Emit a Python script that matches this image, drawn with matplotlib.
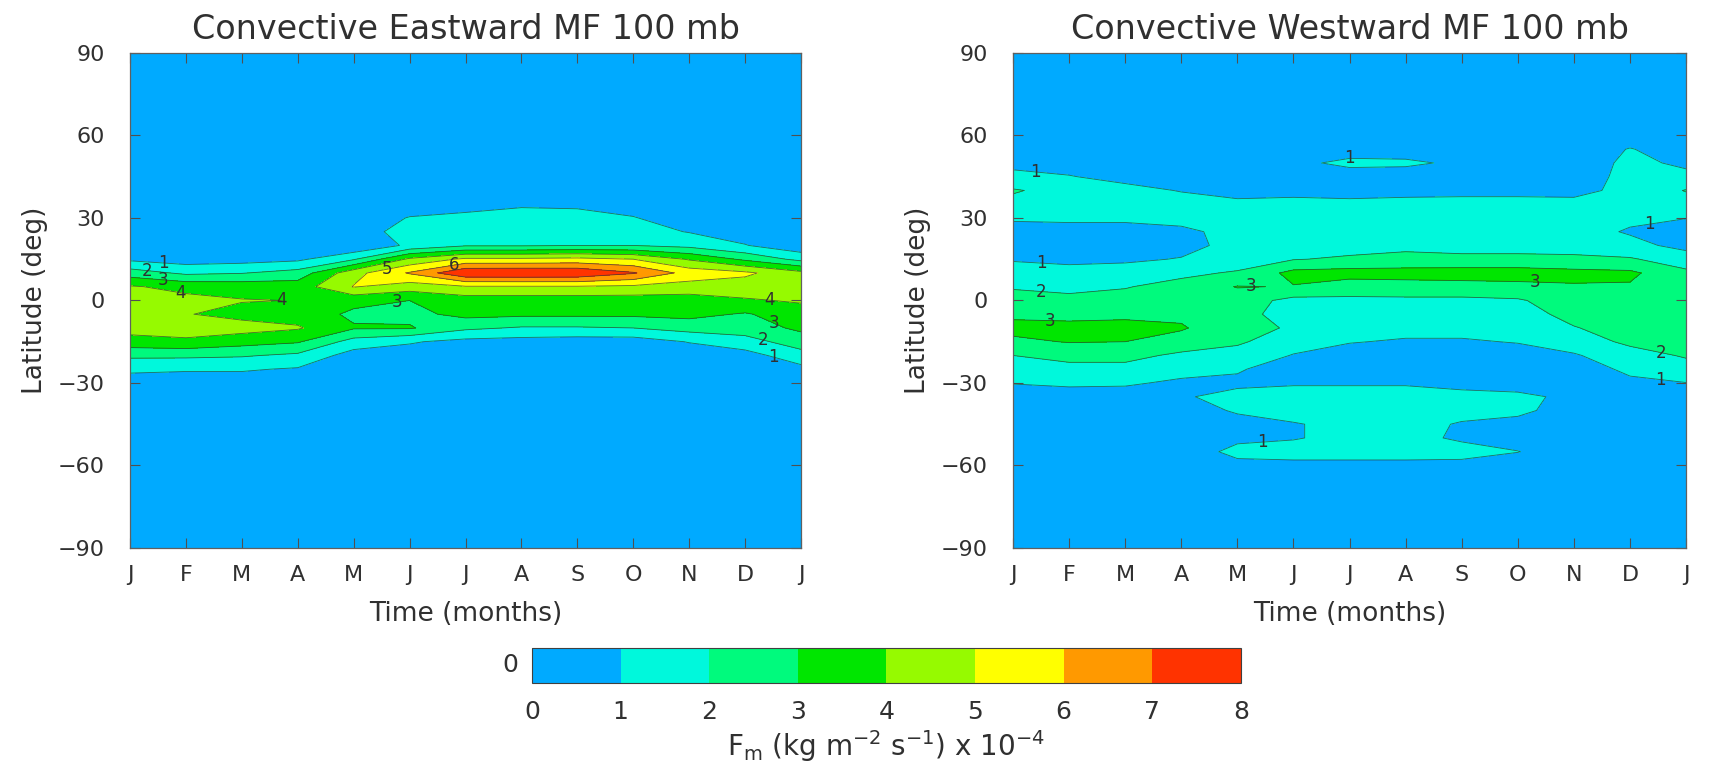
import numpy as np
import matplotlib
matplotlib.use("Agg")
import matplotlib.pyplot as plt
from matplotlib.colors import ListedColormap, BoundaryNorm

# ---- axes / categories ----
month_pos = list(range(13))
month_labels = ["J", "F", "M", "A", "M", "J", "J", "A", "S", "O", "N", "D", "J"]
lat_ticks = [-90, -60, -30, 0, 30, 60, 90]
levels = [0, 1, 2, 3, 4, 5, 6, 7, 8]

# latitude of each data row (north to south)
lat = [90, 75, 65, 60, 55, 50, 45, 40, 35, 30, 25, 20, 15, 10, 5, 0,
       -5, -10, -15, -20, -25, -30, -35, -40, -45, -50, -55, -60, -65, -75, -90]

# ---- eastward momentum flux, 1e-4 kg m-2 s-1 (rows: lat, cols: J..J) ----
east_mf = [
    [0.3] * 13,                                                              # 90
    [0.3] * 13,                                                              # 75
    [0.3] * 13,                                                              # 65
    [0.3] * 13,                                                              # 60
    [0.3] * 13,                                                              # 55
    [0.3] * 13,                                                              # 50
    [0.3] * 13,                                                              # 45
    [0.4, 0.4, 0.4, 0.4, 0.4, 0.4, 0.4, 0.5, 0.4, 0.4, 0.4, 0.4, 0.4],       # 40
    [0.4, 0.4, 0.4, 0.4, 0.4, 0.5, 0.7, 0.9, 0.85, 0.6, 0.4, 0.4, 0.4],      # 35
    [0.4, 0.4, 0.4, 0.4, 0.4, 1.05, 1.2, 1.3, 1.3, 1.05, 0.5, 0.4, 0.4],     # 30
    [0.4, 0.4, 0.4, 0.4, 0.4, 1.5, 1.5, 1.5, 1.6, 1.4, 0.95, 0.5, 0.3],      # 25
    [0.3, 0.3, 0.3, 0.4, 0.1, 1.2, 1.9, 1.9, 2.0, 2.0, 1.7, 1.05, 0.3],      # 20
    [0.8, 0.5, 0.6, 0.8, 1.9, 4.2, 5.2, 5.2, 5.3, 5.0, 3.9, 2.8, 1.7],       # 15
    [2.5, 1.8, 1.95, 2.4, 4.65, 6.1, 7.9, 7.95, 7.9, 7.1, 5.6, 5.2, 4.3],    # 10
    [4.1, 3.7, 3.6, 3.5, 5.05, 4.5, 4.9, 4.9, 4.9, 4.8, 4.6, 4.5, 4.6],      # 5
    [4.6, 4.3, 4.05, 3.98, 3.3, 3.0, 3.5, 3.5, 3.5, 3.5, 3.5, 3.9, 4.1],     # 0
    [4.6, 4.05, 3.7, 3.6, 2.8, 2.7, 3.3, 3.2, 3.2, 3.2, 3.3, 2.9, 3.6],      # -5
    [4.4, 4.5, 4.4, 4.1, 3.1, 3.1, 2.2, 1.9, 1.9, 2.0, 2.4, 2.5, 3.2],       # -10
    [3.6, 3.8, 3.4, 3.1, 1.6, 1.1, 0.7, 0.6, 0.5, 0.5, 1.05, 1.6, 2.5],      # -15
    [2.2, 2.2, 2.1, 1.8, 0.55, 0.5, 0.4, 0.4, 0.4, 0.4, 0.4, 0.6, 1.6],      # -20
    [1.2, 1.1, 1.1, 0.9, 0.4, 0.4, 0.3, 0.3, 0.3, 0.3, 0.3, 0.4, 0.7],       # -25
    [0.5, 0.5, 0.5, 0.4, 0.3, 0.3, 0.3, 0.3, 0.3, 0.3, 0.3, 0.3, 0.4],       # -30
    [0.3] * 13,                                                              # -35
    [0.3] * 13,                                                              # -40
    [0.3] * 13,                                                              # -45
    [0.3] * 13,                                                              # -50
    [0.3] * 13,                                                              # -55
    [0.3] * 13,                                                              # -60
    [0.3] * 13,                                                              # -65
    [0.3] * 13,                                                              # -75
    [0.3] * 13,                                                              # -90
]

# ---- westward momentum flux, 1e-4 kg m-2 s-1 (rows: lat, cols: J..J) ----
west_mf = [
    [0.3] * 13,                                                              # 90
    [0.3] * 13,                                                              # 75
    [0.3] * 13,                                                              # 65
    [0.3, 0.3, 0.3, 0.3, 0.3, 0.3, 0.3, 0.3, 0.3, 0.3, 0.3, 0.5, 0.4],       # 60
    [0.3, 0.3, 0.3, 0.3, 0.3, 0.3, 0.6, 0.6, 0.4, 0.3, 0.4, 1.05, 0.5],      # 55
    [0.8, 0.6, 0.4, 0.3, 0.3, 0.8, 1.2, 1.15, 0.85, 0.5, 0.5, 1.2, 0.85],    # 50
    [1.2, 1.05, 0.7, 0.5, 0.4, 0.6, 0.6, 0.6, 0.6, 0.6, 0.5, 1.3, 1.2],      # 45
    [2.1, 1.6, 1.3, 0.95, 0.7, 0.8, 0.7, 0.75, 0.75, 0.75, 0.7, 1.3, 2.05],  # 40
    [1.7, 1.6, 1.5, 1.4, 1.2, 1.2, 1.2, 1.25, 1.3, 1.3, 1.3, 1.3, 1.6],      # 35
    [1.1, 1.15, 1.2, 1.3, 1.3, 1.4, 1.5, 1.5, 1.5, 1.5, 1.5, 1.2, 1.02],     # 30
    [0.7, 0.7, 0.6, 0.8, 1.3, 1.5, 1.6, 1.6, 1.6, 1.6, 1.4, 0.9, 0.6],       # 25
    [0.6, 0.5, 0.4, 0.7, 1.3, 1.6, 1.6, 1.75, 1.7, 1.7, 1.6, 1.3, 0.7],      # 20
    [0.9, 0.8, 0.85, 1.05, 1.5, 1.95, 2.15, 2.3, 2.2, 2.2, 2.2, 2.1, 1.5],   # 15
    [1.5, 1.3, 1.4, 1.8, 2.1, 3.3, 3.4, 3.4, 3.5, 3.5, 3.3, 3.2, 2.2],       # 10
    [1.9, 1.8, 1.95, 2.3, 3.05, 2.95, 2.5, 2.6, 2.6, 2.7, 2.9, 2.9, 2.6],    # 5
    [2.4, 2.2, 2.3, 2.5, 2.5, 1.7, 1.8, 1.8, 1.8, 1.9, 2.5, 2.7, 2.7],       # 0
    [2.8, 2.7, 2.8, 2.8, 2.4, 1.5, 1.5, 1.5, 1.5, 1.6, 2.3, 2.5, 2.6],       # -5
    [3.3, 3.3, 3.3, 3.1, 2.3, 1.9, 1.3, 1.3, 1.3, 1.4, 1.95, 2.4, 2.5],      # -10
    [2.8, 3.05, 3.0, 2.6, 2.15, 1.4, 1.05, 0.9, 0.9, 1.05, 1.5, 2.2, 2.3],   # -15
    [2.0, 2.3, 2.3, 1.8, 1.6, 0.95, 0.6, 0.5, 0.5, 0.6, 0.9, 1.6, 2.1],      # -20
    [1.5, 1.7, 1.7, 1.4, 1.1, 0.5, 0.5, 0.5, 0.4, 0.4, 0.5, 1.2, 1.6],       # -25
    [1.05, 1.2, 1.15, 0.8, 0.8, 0.9, 0.9, 0.9, 0.7, 0.6, 0.4, 0.8, 0.98],    # -30
    [0.4, 0.5, 0.5, 0.9, 1.3, 1.4, 1.4, 1.4, 1.3, 1.2, 0.8, 0.4, 0.4],       # -35
    [0.3, 0.3, 0.3, 0.6, 1.1, 1.3, 1.4, 1.4, 1.2, 1.15, 0.7, 0.3, 0.3],      # -40
    [0.3, 0.3, 0.3, 0.4, 0.7, 0.95, 1.2, 1.2, 0.95, 0.8, 0.5, 0.3, 0.3],     # -45
    [0.3, 0.3, 0.3, 0.4, 0.85, 0.95, 1.2, 1.2, 0.9, 0.7, 0.5, 0.3, 0.3],     # -50
    [0.3, 0.3, 0.3, 0.6, 1.2, 1.3, 1.3, 1.3, 1.25, 1.02, 0.6, 0.3, 0.3],     # -55
    [0.3, 0.3, 0.3, 0.4, 0.8, 0.8, 0.8, 0.8, 0.8, 0.6, 0.5, 0.3, 0.3],       # -60
    [0.3] * 13,                                                              # -65
    [0.3] * 13,                                                              # -75
    [0.3] * 13,                                                              # -90
]

# contour label anchor points (month, latitude) per level
east_label_pts = {1: [(0.6, 14.5), (11.5, -21.5)],
                  2: [(0.3, 11.5), (11.3, -15.6)],
                  3: [(0.6, 8.5), (4.8, -4.6), (11.5, -9)],
                  4: [(0.9, 3.5), (2.8, 1), (11.45, 2.8)],
                  5: [(4.6, 11)],
                  6: [(5.8, 12.4)]}
west_label_pts = {1: [(0.4, 47.6), (0.5, 14.6), (6.0, 52.7), (11.35, 28.5),
                      (11.55, -28.5), (4.45, -51.2)],
                  2: [(0.5, 3.7), (11.55, -19)],
                  3: [(0.65, -7.3), (4.25, 8.8), (9.3, 7.3)]}

colors = ["#00AAFF", "#00F8DC", "#00FA7D", "#00E600", "#96FA00",
          "#FFFF00", "#FF9900", "#FF3300"]
cmap = ListedColormap(colors)
norm = BoundaryNorm(levels, cmap.N)

plt.rcParams["font.family"] = ["DejaVu Sans"]
text_color = "#303030"

fig = plt.figure(figsize=(17.27, 7.65), dpi=100)
ax_e = fig.add_axes([0.0753, 0.2837, 0.3885, 0.6471])
ax_w = fig.add_axes([0.5866, 0.2837, 0.3897, 0.6471])

lat_arr = np.array(lat, dtype=float)[::-1]


def draw_panel(ax, field, title, label_pts):
    z = np.array(field, dtype=float)[::-1]
    cf = ax.contourf(month_pos, lat_arr, z, levels=levels, cmap=cmap, norm=norm)
    ax.contour(month_pos, lat_arr, z, levels=levels[1:], colors="#2b3b3b",
               linewidths=0.6, alpha=0.75)
    # numeric labels placed on the chosen isolines
    for lev, pts in label_pts.items():
        cs_l = ax.contour(month_pos, lat_arr, z, levels=[lev], colors="none")
        texts = ax.clabel(cs_l, manual=pts, inline=False, fontsize=12,
                          fmt="%d", colors="#303030")
        for t in texts:
            t.set_rotation(0)
    ax.set_xlim(0, 12)
    ax.set_ylim(-90, 90)
    ax.set_xticks(month_pos)
    ax.set_xticklabels(month_labels)
    ax.set_yticks(lat_ticks)
    ax.tick_params(direction="in", length=7, width=0.8, color="#505050",
                   top=True, right=True, labelsize=16, labelcolor=text_color)
    ax.tick_params(axis="x", pad=12)
    ax.tick_params(axis="y", pad=18)
    for s in ax.spines.values():
        s.set_color("#606060")
        s.set_linewidth(0.9)
    ax.set_title(title, fontsize=24, color=text_color, pad=10)
    ax.set_xlabel("Time (months)", fontsize=19, color=text_color, labelpad=12)
    ax.set_ylabel("Latitude (deg)", fontsize=19, color=text_color, labelpad=7)
    return cf


cf = draw_panel(ax_e, east_mf, "Convective Eastward MF 100 mb", east_label_pts)
draw_panel(ax_w, west_mf, "Convective Westward MF 100 mb", west_label_pts)

cax = fig.add_axes([0.308, 0.1072, 0.4105, 0.0458])
cb = fig.colorbar(cf, cax=cax, orientation="horizontal", ticks=levels)
cb.outline.set_linewidth(0.8)
cb.outline.set_edgecolor("#404040")
cax.tick_params(length=0, labelsize=18, labelcolor=text_color, pad=12)
cb.set_label(r"F$_\mathregular{m}$ (kg m$^{-2}$ s$^{-1}$) x 10$^{-4}$",
             fontsize=20, color=text_color, labelpad=3)
fig.text(0.2955, 0.1302, "0", fontsize=18, color=text_color, ha="center", va="center")

fig.savefig("out.png", dpi=100)
